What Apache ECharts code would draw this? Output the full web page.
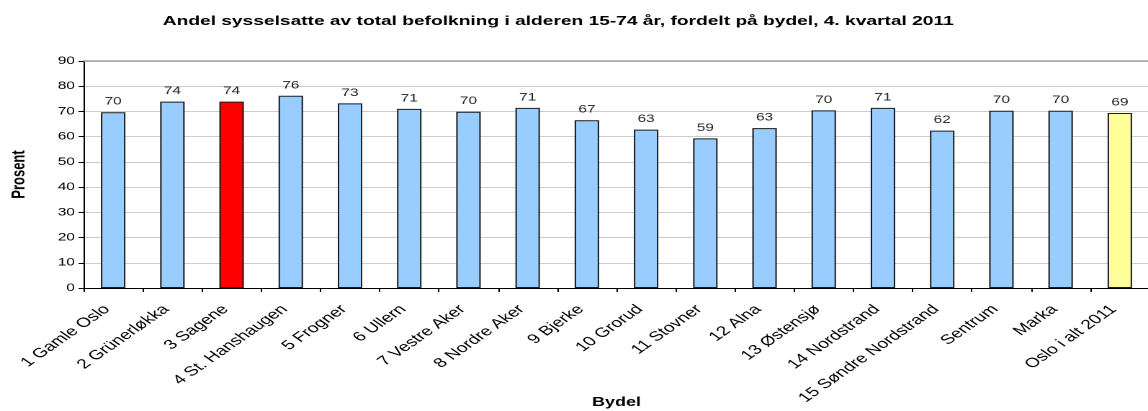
<!DOCTYPE html>
<html>
<head>
<meta charset="utf-8">
<script src="https://cdn.jsdelivr.net/npm/echarts@6/dist/echarts.min.js"></script>
<style>
  html, body { margin: 0; padding: 0; background: #fff; overflow: hidden; }
  /* the source chart is an Excel chart stretched sideways, so draw it narrow and stretch it */
  #main { width: 797px; height: 411px; transform: scaleX(1.4404); transform-origin: 0 0; }
</style>
</head>
<body>
<div id="main"></div>
<script>
var chartDom = document.getElementById('main');
var myChart = echarts.init(chartDom, null, { devicePixelRatio: 2 });
var option;

// bydeler
const categories = [
  '1 Gamle Oslo', '2 Grünerløkka', '3 Sagene', '4 St. Hanshaugen', '5 Frogner',
  '6 Ullern', '7 Vestre Aker', '8 Nordre Aker', '9 Bjerke', '10 Grorud',
  '11 Stovner', '12 Alna', '13 Østensjø', '14 Nordstrand', '15 Søndre Nordstrand',
  'Sentrum', 'Marka', 'Oslo i alt 2011'
];
// andel sysselsatte, prosent
const values = [
  69.7, 73.9, 73.9, 76.2, 73.2, 71.0, 69.9, 71.4, 66.5, 62.8,
  59.3, 63.4, 70.4, 71.4, 62.4, 70.3, 70.3, 69.4
];
const yTicks = [0, 10, 20, 30, 40, 50, 60, 70, 80, 90];

const highlight = { '3 Sagene': '#ff0000', 'Oslo i alt 2011': '#ffff99' };

option = {
  backgroundColor: '#fff',
  animation: false,
  textStyle: { fontFamily: 'Liberation Sans, Arial, sans-serif' },
  title: {
    text: 'Andel sysselsatte av total befolkning i alderen 15-74 år, fordelt på bydel, 4. kvartal 2011',
    left: 108,
    top: 10,
    textStyle: { fontSize: 13.3, fontWeight: 'bold', color: '#000' }
  },
  grid: { left: 58, right: -1, top: 61, bottom: 123, containLabel: false, outerBoundsMode: 'none' },
  xAxis: [
    {
      type: 'category',
      data: categories,
      name: 'Bydel',
      nameLocation: 'middle',
      nameGap: 108,
      nameMoveOverlap: false,
      nameTextStyle: { fontSize: 12.5, fontWeight: 'bold', color: '#000' },
      axisLine: { lineStyle: { color: '#000', width: 1 } },
      axisTick: { show: true, length: 4, lineStyle: { color: '#000' } },
      axisLabel: {
        interval: 0, rotate: 45, fontSize: 13.3, color: '#000',
        margin: 15, padding: [0, 6, 0, 0]
      }
    },
    {
      // darker frame line at the top of the plot
      type: 'category',
      position: 'top',
      data: categories,
      axisLine: { lineStyle: { color: '#a0a0a0', width: 1.5 } },
      axisTick: { show: false },
      axisLabel: { show: false }
    }
  ],
  yAxis: {
    type: 'value',
    min: yTicks[0],
    max: yTicks[yTicks.length - 1],
    interval: 10,
    name: 'Prosent',
    nameLocation: 'middle',
    nameGap: 38,
    nameMoveOverlap: false,
    nameTextStyle: { fontSize: 13, fontWeight: 'bold', color: '#000' },
    axisLine: { show: true, lineStyle: { color: '#000', width: 1 } },
    axisTick: { show: true, length: 3.5, lineStyle: { color: '#000' } },
    axisLabel: { fontSize: 10.7, color: '#000', margin: 6 },
    splitLine: { lineStyle: { color: '#cccccc', width: 1 } }
  },
  series: [
    {
      type: 'bar',
      barWidth: 17,
      data: values.map(function (v, i) {
        return {
          value: v,
          itemStyle: { color: highlight[categories[i]] || '#99ccff' }
        };
      }),
      itemStyle: { borderColor: '#1a1a1a', borderWidth: 1 },
      label: {
        show: true,
        position: 'top',
        distance: 5,
        fontSize: 10.7,
        color: '#222',
        formatter: function (p) { return Math.round(p.value); }
      }
    }
  ]
};

option && myChart.setOption(option);
</script>
</body>
</html>
